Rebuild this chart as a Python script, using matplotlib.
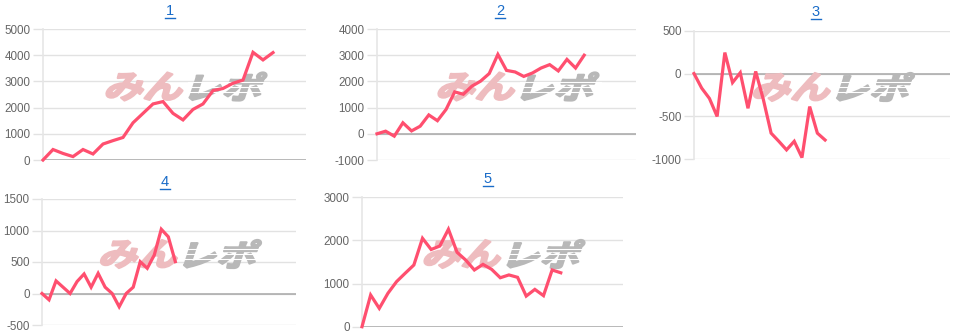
import matplotlib
matplotlib.use("Agg")
import matplotlib.pyplot as plt
from matplotlib.textpath import TextPath
from matplotlib.font_manager import FontProperties
from matplotlib.patches import PathPatch
from matplotlib.transforms import Affine2D
from matplotlib.lines import Line2D
import numpy as np

# ---------------- data ----------------
titles = ["1", "2", "3", "4", "5"]

s1 = [0, 400, 250, 130, 400, 230, 610, 740, 860, 1420, 1780, 2140, 2230, 1780,
      1530, 1930, 2140, 2650, 2730, 2930, 3050, 4110, 3820, 4100]
s2 = [0, 100, -90, 420, 110, 290, 720, 500, 930, 1600, 1510, 1820, 2010, 2300,
      3030, 2420, 2360, 2190, 2320, 2510, 2640, 2400, 2840, 2510, 3000]
s3 = [0, -170, -290, -500, 245, -105, 10, -405, 25, -305, -695, -790, -890,
      -790, -980, -385, -695, -775]
s4 = [0, -100, 200, 100, 0, 190, 310, 100, 320, 100, 0, -210, 0, 100, 505,
      400, 610, 1020, 900, 505]
s5 = [0, 735, 425, 775, 1045, 1240, 1430, 2050, 1790, 1870, 2260, 1725, 1545,
      1315, 1445, 1330, 1135, 1200, 1145, 710, 865, 720, 1315, 1250]
series = [s1, s2, s3, s4, s5]

yticks = [
    [0, 1000, 2000, 3000, 4000, 5000],
    [-1000, 0, 1000, 2000, 3000, 4000],
    [-1000, -500, 0, 500],
    [-500, 0, 500, 1000, 1500],
    [0, 1000, 2000, 3000],
]
xmax = [26.3, 30.0, 33.2, 36.2, 30.2]

# ---------------- layout (pixels) ----------------
W, H = 962, 335
boxes = [  # left, right, top, bottom in px
    (43, 306, 29, 160),
    (377, 636, 29, 160),
    (694, 950, 30.7, 159.3),
    (42, 296, 199, 325),
    (362, 623, 197.3, 326.7),
]
title_pos = [(170, 11), (500, 11), (816, 12), (165, 182), (488, 179)]

LINE = "#ff4f6f"
GRID = "#e2e2e2"
TICK = "#666666"
TITLE = "#1a6cc8"

fig = plt.figure(figsize=(W / 100, H / 100), dpi=100)
fig.patch.set_facecolor("white")

cjk = FontProperties(family="Noto Sans CJK JP", weight="bold")


def to_disp():
    return Affine2D().scale(1 / 100.0) + fig.dpi_scale_trans


def wm_part(ax, text, x0, x1, ytop, ybot, color, stripes=False):
    tp = TextPath((0, 0), text, size=40, prop=cjk)
    sk = Affine2D().skew_deg(14, 0)
    p = tp.transformed(sk)
    ext = p.get_extents()
    sx = (x1 - x0) / ext.width
    sy = (ybot - ytop) / ext.height
    tr = (Affine2D().translate(-ext.x0, -ext.y0).scale(sx, sy)
          .translate(x0, H - ybot))
    p2 = p.transformed(tr)
    patch = PathPatch(p2, facecolor=color, edgecolor=color, lw=1.6,
                      joinstyle="round", transform=to_disp(), zorder=1.5,
                      clip_on=False)
    ax.add_artist(patch)
    if stripes:
        for yy in (ytop + 9, ytop + 14, ytop + 19):
            ln = Line2D([x0 - 2, x1 + 2], [H - yy, H - yy], color="white",
                        lw=0.8, transform=to_disp(), zorder=1.6)
            ax.add_artist(ln)


for i, (ser, yt, xm, box) in enumerate(zip(series, yticks, xmax, boxes)):
    l, r, t, b = box
    ax = fig.add_axes([l / W, 1 - b / H, (r - l) / W, (b - t) / H])
    x = np.arange(len(ser))
    ax.plot(x, ser, color=LINE, lw=2.3, solid_joinstyle="miter", zorder=3,
            clip_on=False)
    ax.set_xlim(0, xm)
    ax.set_ylim(yt[0], yt[-1])
    ax.set_yticks(yt)
    ax.set_yticklabels([str(v) for v in yt])
    ax.set_xticks([])
    ax.grid(axis="y", color=GRID, lw=1)
    ax.set_axisbelow(True)
    for s in ["top", "right", "bottom"]:
        ax.spines[s].set_visible(False)
    ax.spines["left"].set_color("#e6e6e6")
    ax.spines["left"].set_linewidth(1.2)
    ax.axhline(0, color="#a8a8a8", lw=1.1, zorder=1)
    ax.tick_params(axis="y", length=7.5, width=1, color=GRID, pad=1.5,
                   labelsize=8.4, labelcolor=TICK)
    for lab in ax.get_yticklabels():
        lab.set_family("Liberation Sans")

    # watermark
    cx = (l + r) / 2 + 12
    cy = (t + b) / 2 - 8
    wm_part(ax, "みん", cx - 80, cx - 4, cy - 14, cy + 14, "#eebcbf")
    wm_part(ax, "レポ", cx + 3, cx + 80, cy - 14, cy + 14, "#b8b8b8",
            stripes=True)

    # title with underline
    tx, ty = title_pos[i]
    fig.text(tx / W, 1 - ty / H, titles[i], ha="center", va="center",
             fontsize=10.5, color=TITLE, family="Liberation Sans")
    fig.add_artist(Line2D([(tx - 5) / W, (tx + 5) / W],
                          [1 - (ty + 6.5) / H, 1 - (ty + 6.5) / H],
                          color=TITLE, lw=1.0, transform=fig.transFigure))

fig.savefig("out.png", dpi=100, facecolor="white")
